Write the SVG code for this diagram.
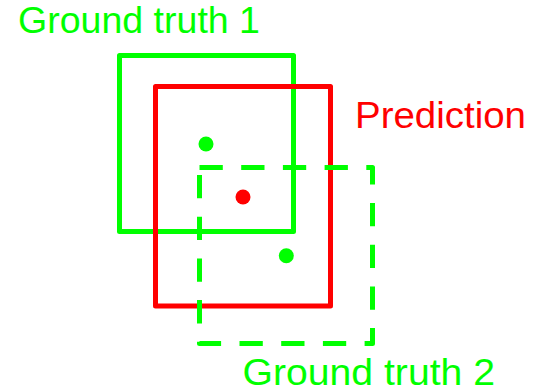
<svg xmlns="http://www.w3.org/2000/svg" width="533" height="392" viewBox="0 0 533 392">
<style>
.box{fill:none;stroke-width:5;stroke-linejoin:round}
.g{stroke:#00ff00}
.r{stroke:#ff0000}
.dash{stroke-dasharray:23.3 18.4}
.lbl{font-family:"Liberation Sans",Arial,sans-serif;font-size:37px}
</style>
<rect width="533" height="392" fill="#ffffff"/>
<g id="gt1">
<rect class="box g" x="119.5" y="55.5" width="174" height="176"/>
<circle cx="206" cy="144" r="7.5" fill="#00ff00"/>
<text class="lbl" x="18" y="33" fill="#00ff00" textLength="242" lengthAdjust="spacingAndGlyphs">Ground truth 1</text>
</g>
<g id="prediction">
<rect class="box r" x="155.5" y="86.5" width="175" height="219.5"/>
<circle cx="243" cy="197" r="7.5" fill="#ff0000"/>
<text class="lbl" x="355" y="128" fill="#ff0000" textLength="171" lengthAdjust="spacingAndGlyphs">Prediction</text>
</g>
<g id="gt2">
<path class="box g dash" d="M199.5,167.5 H372.5 V343.5 H199.5 Z"/>
<circle cx="286.3" cy="255.8" r="7.5" fill="#00ff00"/>
<text class="lbl" x="242.5" y="385" fill="#00ff00" textLength="252.5" lengthAdjust="spacingAndGlyphs">Ground truth 2</text>
</g>
<g id="connectors"></g>
</svg>
